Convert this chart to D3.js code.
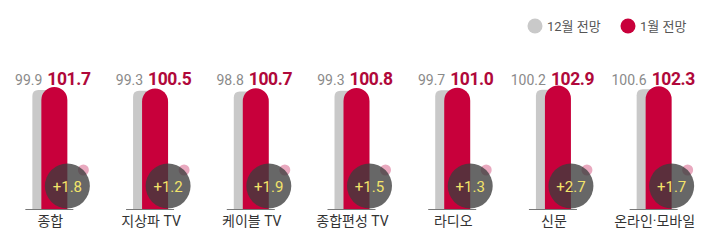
<!DOCTYPE html>
<html>
<head>
    <meta charset="utf-8">
    <title>전망 비교</title>
    <script src="https://d3js.org/d3.v7.min.js"></script>
    <style>
        body { margin: 0; background: #fff; }
        text { font-family: Roboto, "Noto Sans CJK KR", sans-serif; }
    </style>
</head>
<body>
    <div id="chart"></div>
    <script>
        // 데이터
        const categories = ["종합", "지상파 TV", "케이블 TV", "종합편성 TV", "라디오", "신문", "온라인·모바일"];
        const decValues = [99.9, 99.3, 98.8, 99.3, 99.7, 100.2, 100.6];
        const janValues = [101.7, 100.5, 100.7, 100.8, 101.0, 102.9, 102.3];
        const diffLabels = ["+1.8", "+1.2", "+1.9", "+1.5", "+1.3", "+2.7", "+1.7"];
        const legendLabels = ["12월 전망", "1월 전망"];

        const width = 710, height = 246;
        const baseY = 209;
        const barW = 26, offset = 9;

        const svg = d3.select("#chart").append("svg")
            .attr("width", width).attr("height", height);

        const x = d3.scaleBand().domain(categories).range([0, 705]).paddingInner(0);
        const y = d3.scaleLinear().domain([0, 100]).range([baseY, 90]);

        // 빨간 막대의 왼쪽 위치
        const redLeft = c => x(c) + x.bandwidth() / 2 - 9;

        function topRounded(x0, w, top, r) {
            return `M${x0},${baseY}V${top + r}A${r},${r} 0 0 1 ${x0 + w},${top + r}V${baseY}Z`;
        }
        function greyPath(x0, w, top) {
            const r = 6;
            return `M${x0},${baseY}V${top + r}Q${x0},${top} ${x0 + r},${top}H${x0 + w}V${baseY}Z`;
        }

        const g = svg.append("g").selectAll("g")
            .data(categories).enter().append("g");

        // 기준선
        g.append("line")
            .attr("x1", c => redLeft(c) - offset - 7)
            .attr("x2", c => redLeft(c) + barW + 6)
            .attr("y1", baseY + 0.5).attr("y2", baseY + 0.5)
            .attr("stroke", "#777").attr("stroke-width", 1);

        // 12월 막대
        g.append("path")
            .attr("d", (c, i) => greyPath(redLeft(c) - offset, barW, y(decValues[i])))
            .attr("fill", "#c9c9c9");

        // 1월 막대
        g.append("path")
            .attr("d", (c, i) => topRounded(redLeft(c), barW, y(janValues[i]) - 1, barW / 2))
            .attr("fill", "#c8003b");

        // 작은 분홍 원
        g.append("circle")
            .attr("cx", c => redLeft(c) + barW + 16)
            .attr("cy", 170).attr("r", 5.5)
            .attr("fill", "#e9a9bf");

        // 증감 원
        g.append("circle")
            .attr("cx", c => redLeft(c) + barW)
            .attr("cy", 186).attr("r", 22.5)
            .attr("fill", "#3c3c3c").attr("fill-opacity", 0.78);

        g.append("text")
            .attr("x", c => redLeft(c) + barW)
            .attr("y", 192)
            .attr("text-anchor", "middle")
            .attr("font-size", 15)
            .attr("fill", "#f3e46a")
            .text((c, i) => diffLabels[i]);

        // 값 라벨
        g.append("text")
            .attr("x", c => redLeft(c) + 1)
            .attr("y", 85)
            .attr("text-anchor", "end")
            .attr("font-size", 14)
            .attr("fill", "#8a8a8a")
            .text((c, i) => decValues[i].toFixed(1));

        g.append("text")
            .attr("x", c => redLeft(c) + 6)
            .attr("y", 85)
            .attr("font-size", 17.5)
            .attr("font-weight", "bold")
            .attr("letter-spacing", -0.4)
            .attr("fill", "#b0083a")
            .text((c, i) => janValues[i].toFixed(1));

        // 카테고리 라벨
        g.append("text")
            .attr("x", c => redLeft(c) + 9)
            .attr("y", 226)
            .attr("text-anchor", "middle")
            .attr("font-size", 14)
            .attr("fill", "#333")
            .text(c => c);

        // 범례
        const legendColors = ["#c9c9c9", "#c8003b"];
        const legendX = [535, 628];
        const legend = svg.append("g").selectAll("g")
            .data(legendLabels).enter().append("g")
            .attr("transform", (d, i) => `translate(${legendX[i]},26)`);
        legend.append("circle").attr("r", 7.5).attr("fill", (d, i) => legendColors[i]);
        legend.append("text")
            .attr("x", 12).attr("y", 5)
            .attr("font-size", 13)
            .attr("fill", "#555")
            .text(d => d);
    </script>
</body>
</html>
